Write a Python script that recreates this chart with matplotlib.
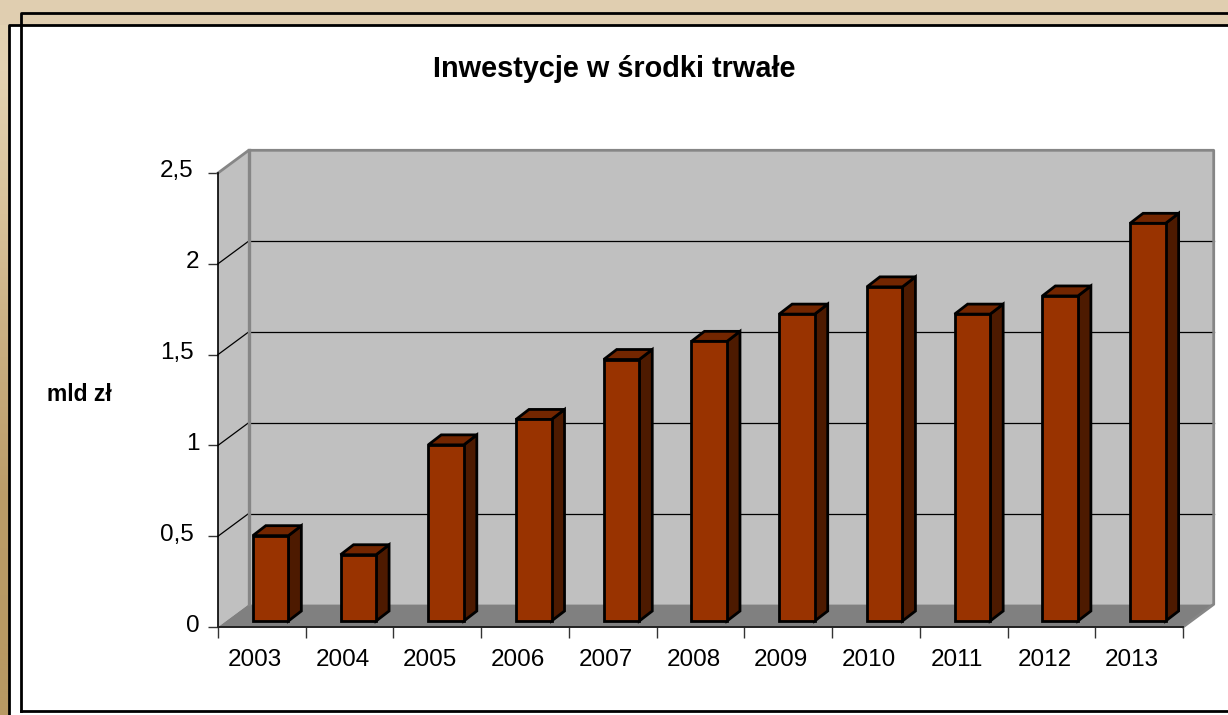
import numpy as np
import matplotlib
matplotlib.use('Agg')
import matplotlib.pyplot as plt
from matplotlib.patches import Polygon, Rectangle
from matplotlib.transforms import ScaledTranslation
from matplotlib.colors import to_rgb

years = ['2003','2004','2005','2006','2007','2008','2009','2010','2011','2012','2013']
values = [0.47, 0.365, 0.97, 1.11, 1.44, 1.54, 1.69, 1.84, 1.69, 1.79, 2.19]
yticks = [0, 0.5, 1, 1.5, 2, 2.5]
ylabels = ['0', '0,5', '1', '1,5', '2', '2,5']

W, H = 1228, 715
plt.rcParams['font.family'] = ['Liberation Sans', 'DejaVu Sans']

fig = plt.figure(figsize=(W/100, H/100), dpi=100)

# page background, everything in pixels
bg = fig.add_axes([0, 0, 1, 1])
bg.set_xlim(0, W)
bg.set_ylim(H, 0)
bg.axis('off')
strip = np.array([to_rgb(c) for c in ['#e3d2b2', '#d8c29a', '#c8ad7f', '#bb9c68', '#b89963']])
bg.imshow(strip[:, None, :], extent=[0, W, H, 0], aspect='auto', interpolation='bilinear', zorder=0)
bg.add_patch(Rectangle((0, 0), W, 25, fc='#e0ceb0', ec='none', zorder=1))
bg.add_patch(Rectangle((9, 25), W, H - 25, fc='white', ec='none', zorder=2))
bg.plot([W, 21, 21], [13, 13, 711], color='black', lw=2, zorder=3)
bg.plot([W, 9, 9], [25, 25, H + 5], color='black', lw=2, zorder=3)
bg.plot([21, W], [711, 711], color='black', lw=2, zorder=3)

# plot axes, front edge of the floor: x 218..1183, y 627..173
ax = fig.add_axes([218/W, 1 - 627/H, 965/W, 454/H])
ax.set_xlim(0, len(years))
ax.set_ylim(0, 2.5)
ax.patch.set_alpha(0)
for s in ax.spines.values():
    s.set_visible(False)

# depth of the box and of the bars, in data units
dx, dy = 0.35, 0.125
bar_w, bar_dx, bar_dy = 0.405, 0.148, 0.055
bar_x0, bar_y0 = 0.397, 0.033
n = len(years)

def poly(pts, fc, ec='none', lw=0, z=2):
    ax.add_patch(Polygon(pts, closed=True, fc=fc, ec=ec, lw=lw, joinstyle='miter', clip_on=False, zorder=z))

poly([(dx, dy), (n + dx, dy), (n + dx, 2.5 + dy), (dx, 2.5 + dy)], '#c0c0c0', z=1)
poly([(0, 0), (dx, dy), (dx, 2.5 + dy), (0, 2.5)], '#c0c0c0', z=1)
poly([(0, 0), (n, 0), (n + dx, dy), (dx, dy)], '#808080', z=1)

# gridlines on the back and side wall
for t in yticks[1:-1]:
    ax.plot([dx, n + dx], [t + dy, t + dy], color='black', lw=0.9, zorder=1.5, clip_on=False)
    ax.plot([0, dx], [t, t + dy], color='black', lw=0.9, zorder=1.5, clip_on=False)

# grey edges of the walls
ax.plot([0, dx, n + dx, n + dx, n], [2.5, 2.5 + dy, 2.5 + dy, dy, 0], color='#868686', lw=2, zorder=1.6, clip_on=False)
ax.plot([dx, dx], [2.5 + dy, dy], color='#868686', lw=2.4, zorder=1.6, clip_on=False)
ax.plot([0, 0], [0, 2.5], color='black', lw=1.2, zorder=1.7, clip_on=False)
ax.plot([0, n], [0, 0], color='#222222', lw=1.4, zorder=1.7, clip_on=False)

for i, v in enumerate(values):
    x0 = i + bar_x0
    x1 = x0 + bar_w
    y0 = bar_y0
    y1 = bar_y0 + v
    poly([(x1, y0), (x1 + bar_dx, y0 + bar_dy), (x1 + bar_dx, y1 + bar_dy), (x1, y1)], '#4d1a00', 'black', 2, 3)
    poly([(x0, y1), (x1, y1), (x1 + bar_dx, y1 + bar_dy), (x0 + bar_dx, y1 + bar_dy)], '#732600', 'black', 2, 3)
    poly([(x0, y0), (x1, y0), (x1, y1), (x0, y1)], '#993300', 'black', 2, 4)

ax.set_xticks(range(n + 1))
ax.set_xticklabels([])
ax.set_xticks(np.arange(n) + 0.42, labels=years, minor=True)
ax.tick_params(axis='x', which='major', length=8, width=1, direction='out', color='#333333')
ax.tick_params(axis='x', which='minor', length=0, pad=16, labelsize=17.5)
ax.set_yticks(yticks, labels=ylabels)
ax.tick_params(axis='y', length=7, width=1, direction='out', pad=4, labelsize=17.5, color='#333333')

# labels sit a little above their ticks, the ones with a comma further left
for lbl, txt in zip(ax.get_yticklabels(), ylabels):
    shift = -9 if ',' in txt else -3
    lbl.set_transform(lbl.get_transform() + ScaledTranslation(shift/100, 4/100, fig.dpi_scale_trans))

fig.text(614/W, 1 - 69/H, 'Inwestycje w środki trwałe', ha='center', va='center', fontsize=20.8, fontweight='bold')
fig.text(79/W, 1 - 395/H, 'mld zł', ha='center', va='center', fontsize=16.5, fontweight='bold')

fig.savefig('out.png', dpi=100)
